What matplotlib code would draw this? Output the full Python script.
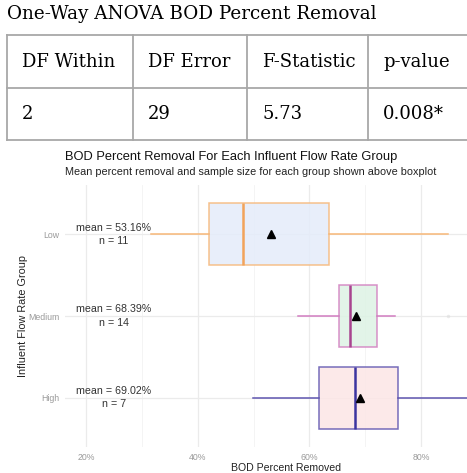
import numpy as np
import matplotlib.pyplot as plt
from matplotlib.lines import Line2D

# ANOVA table
table_title = "One-Way ANOVA BOD Percent Removal"
table_headers = ["DF Within", "DF Error", "F-Statistic", "p-value"]
table_values = ["2", "29", "5.73", "0.008*"]

# boxplot summary per group (percent removed)
groups = ["High", "Medium", "Low"]
q1 = [61.7, 65.3, 42.0]
medians = [68.2, 67.3, 48.1]
q3 = [75.9, 72.1, 63.5]
whis_lo = [49.9, 58.0, 31.6]
whis_hi = [92.0, 75.3, 84.8]
means = [69.02, 68.39, 53.16]
sizes = [7, 14, 11]
outliers = [[], [84.8], []]

edge_colors = ["#5F55B0", "#D27DC0", "#F7B777"]
median_colors = ["#3C34A0", "#A8438F", "#F2A35A"]
fill_colors = ["#FCE6E6", "#DDF3E4", "#E4ECFA"]

W, H = 467, 473
fig = plt.figure(figsize=(W / 100, H / 100), dpi=100)
plt.rcParams['font.family'] = ['Liberation Sans', 'DejaVu Sans']

# ---- table drawn in figure pixel coords
tab = fig.add_axes([0, 0, 1, 1])
tab.set_xlim(0, W)
tab.set_ylim(H, 0)
tab.axis('off')

serif = 'DejaVu Serif'
tab.text(7, 14, table_title, family=serif, fontsize=13.2, va='center', ha='left')

col_x = [7, 133, 247, 368, 470]
row_y = [35, 88, 140]
line_col = '#A8A8A8'
for x in col_x:
    tab.add_line(Line2D([x, x], [row_y[0], row_y[-1]], color=line_col, lw=1.3))
for y in row_y:
    tab.add_line(Line2D([col_x[0], col_x[-1]], [y, y], color=line_col, lw=1.3))
for i in range(4):
    tab.text(col_x[i] + 15, 62, table_headers[i], family=serif, fontsize=13.0, va='center')
    tab.text(col_x[i] + 15, 114, table_values[i], family=serif, fontsize=13.0, va='center')

# ---- boxplot
left, right = 65 / W, 507 / W
bottom, top = (H - 447) / H, (H - 185) / H
ax = fig.add_axes([left, bottom, right - left, top - bottom])

x0 = 20 + (65 - 86) / 5.585
x1 = 20 + (507 - 86) / 5.585

for i in range(3):
    stats = [dict(med=medians[i], q1=q1[i], q3=q3[i], whislo=whis_lo[i],
                  whishi=whis_hi[i], mean=means[i], fliers=outliers[i])]
    ec = edge_colors[i]
    ax.bxp(stats, positions=[i + 1], vert=False, widths=0.75, patch_artist=True,
           showmeans=True, showcaps=False,
           boxprops=dict(facecolor=fill_colors[i], edgecolor=ec, lw=1.1, alpha=0.85),
           whiskerprops=dict(color=ec, lw=1.1),
           medianprops=dict(color=median_colors[i], lw=1.8),
           meanprops=dict(marker='^', markerfacecolor='black', markeredgecolor='black',
                          markersize=6),
           flierprops=dict(marker='o', markerfacecolor='#DDDDDD', markeredgecolor='none',
                           markersize=2.5, alpha=0.6))
    ax.text(25, i + 1, "mean = %.2f%%\nn = %d" % (means[i], sizes[i]),
            ha='center', va='center', fontsize=7.7, color='#333333', linespacing=1.4)

ax.set_xlim(x0, x1)
ax.set_ylim(0.4, 3.6)
ax.set_xticks([20, 40, 60, 80])
ax.set_xticks([30, 50, 70], minor=True)
ax.set_xticklabels(["20%", "40%", "60%", "80%"])
ax.set_yticks([1, 2, 3])
ax.set_yticklabels(groups)
ax.grid(True, which='major', color='#EBEBEB', lw=0.9)
ax.grid(True, which='minor', axis='x', color='#F3F3F3', lw=0.6)
ax.set_axisbelow(True)
for s in ax.spines.values():
    s.set_visible(False)
ax.tick_params(which='both', length=0, colors='#9A9A9A', labelsize=6.3, pad=4)

ax.set_xlabel("BOD Percent Removed", fontsize=7.6, color='#222222', labelpad=1)
ax.set_ylabel("Influent Flow Rate Group", fontsize=7.8, color='#222222', labelpad=0)

fig.text(65 / W, 1 - 157 / H, "BOD Percent Removal For Each Influent Flow Rate Group",
         fontsize=9.3, color='#111111', va='center', ha='left')
fig.text(65 / W, 1 - 172 / H,
         "Mean percent removal and sample size for each group shown above boxplot",
         fontsize=7.8, color='#222222', va='center', ha='left')

fig.savefig('out.png', dpi=100)
